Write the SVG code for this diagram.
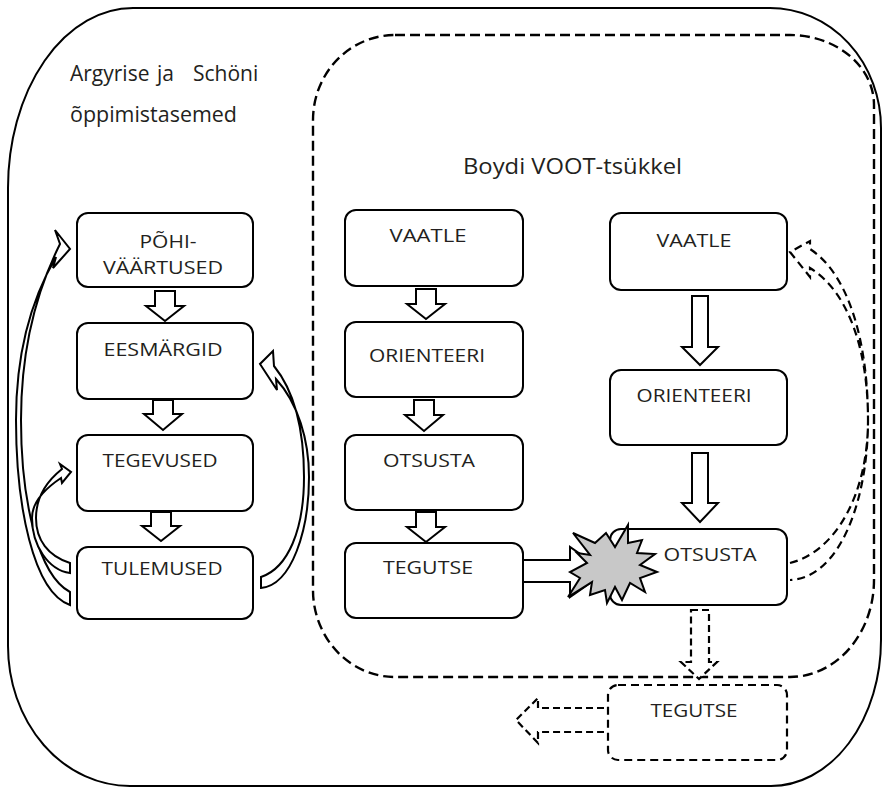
<svg xmlns="http://www.w3.org/2000/svg" width="886" height="791" viewBox="0 0 886 791">
<style>
  .box { fill: #ffffff; stroke: #000000; stroke-width: 2; }
  .dbox { fill: #ffffff; stroke: #000000; stroke-width: 2.2; stroke-dasharray: 8 5; }
  .lbl { font-family: "Open Sans", "Liberation Sans", sans-serif; font-size: 19px; fill: #231f20; text-anchor: middle; }
  .hdr { font-family: "Open Sans", "Liberation Sans", sans-serif; font-size: 21px; fill: #231f20; }
  .blk { fill: #ffffff; stroke: #000000; stroke-width: 2; stroke-linejoin: miter; }
  .dblk { fill: #ffffff; stroke: #000000; stroke-width: 2.2; stroke-dasharray: 7 4; }
  .curve { fill: #ffffff; stroke: #000000; stroke-width: 2; stroke-linejoin: miter; }
  .dcurve { fill: none; stroke: #000000; stroke-width: 2.2; stroke-dasharray: 8 5; }
</style>

<g id="containers">
  <path d="M133,8 H770 A111 120 0 0 1 881,128 V640 A110 146 0 0 1 771,786 H130 A122 140 0 0 1 8,646 V188 A125 180 0 0 1 133,8 Z" fill="none" stroke="#000" stroke-width="2"/>
  <path d="M395,35 H790 A84 70 0 0 1 874,105 V580 A84 97 0 0 1 790,677 H395 A82 87 0 0 1 313,590 V120 A82 85 0 0 1 395,35 Z" fill="none" stroke="#000" stroke-width="2.4" stroke-dasharray="10 5"/>
</g>

<g id="titles">
  <text class="hdr" y="81"><tspan x="70">Argyrise </tspan><tspan x="157">ja </tspan><tspan x="193">Schöni</tspan></text>
  <text class="hdr" x="70" y="122" textLength="167" lengthAdjust="spacingAndGlyphs">õppimistasemed</text>
  <text class="hdr" x="463" y="174" textLength="219" lengthAdjust="spacingAndGlyphs">Boydi VOOT-tsükkel</text>
</g>

<g id="node-pohivaartused">
  <rect class="box" x="77" y="213" width="176" height="74" rx="11"/>
  <text class="lbl" x="168" y="248" textLength="57" lengthAdjust="spacingAndGlyphs">PÕHI-</text>
  <text class="lbl" x="163" y="274" textLength="120" lengthAdjust="spacingAndGlyphs">VÄÄRTUSED</text>
</g>
<g id="node-eesmargid">
  <rect class="box" x="77" y="323" width="176" height="76" rx="11"/>
  <text class="lbl" x="163" y="356" textLength="119" lengthAdjust="spacingAndGlyphs">EESMÄRGID</text>
</g>
<g id="node-tegevused">
  <rect class="box" x="77" y="435" width="176" height="76" rx="11"/>
  <text class="lbl" x="160" y="467" textLength="115" lengthAdjust="spacingAndGlyphs">TEGEVUSED</text>
</g>
<g id="node-tulemused">
  <rect class="box" x="77" y="547" width="176" height="72" rx="11"/>
  <text class="lbl" x="162" y="575" textLength="121" lengthAdjust="spacingAndGlyphs">TULEMUSED</text>
</g>

<g id="node-vaatle1">
  <rect class="box" x="345" y="210" width="178" height="76" rx="11"/>
  <text class="lbl" x="428" y="242" textLength="77" lengthAdjust="spacingAndGlyphs">VAATLE</text>
</g>
<g id="node-orienteeri1">
  <rect class="box" x="345" y="322" width="178" height="75" rx="11"/>
  <text class="lbl" x="427" y="362" textLength="116" lengthAdjust="spacingAndGlyphs">ORIENTEERI</text>
</g>
<g id="node-otsusta1">
  <rect class="box" x="345" y="435" width="178" height="75" rx="11"/>
  <text class="lbl" x="429" y="467" textLength="92" lengthAdjust="spacingAndGlyphs">OTSUSTA</text>
</g>
<g id="node-tegutse1">
  <rect class="box" x="345" y="543" width="178" height="75" rx="11"/>
  <text class="lbl" x="428" y="574" textLength="90" lengthAdjust="spacingAndGlyphs">TEGUTSE</text>
</g>

<g id="node-vaatle2">
  <rect class="box" x="610" y="213" width="177" height="77" rx="11"/>
  <text class="lbl" x="694" y="247" textLength="75" lengthAdjust="spacingAndGlyphs">VAATLE</text>
</g>
<g id="node-orienteeri2">
  <rect class="box" x="610" y="370" width="177" height="75" rx="11"/>
  <text class="lbl" x="694" y="402" textLength="115" lengthAdjust="spacingAndGlyphs">ORIENTEERI</text>
</g>
<g id="node-otsusta2">
  <rect class="box" x="610" y="529" width="177" height="76" rx="11"/>
  <text class="lbl" x="710" y="561" textLength="93" lengthAdjust="spacingAndGlyphs">OTSUSTA</text>
</g>
<g id="node-tegutse2">
  <rect class="dbox" x="608" y="685" width="179" height="75" rx="10"/>
  <text class="lbl" x="694" y="717" textLength="87" lengthAdjust="spacingAndGlyphs">TEGUTSE</text>
</g>

<g id="connectors">
  <path class="blk" d="M155,291 H175 V306 H184 L165,321 L146,306 H155 Z"/>
  <path class="blk" d="M153,400 H173 V414 H182 L163,430 L144,414 H153 Z"/>
  <path class="blk" d="M151,512 H171 V526 H180 L161,541 L142,526 H151 Z"/>
  <path class="blk" d="M416,289 H436 V304 H445 L426,319 L407,304 H416 Z"/>
  <path class="blk" d="M414,400 H434 V415 H443 L424,431 L405,415 H414 Z"/>
  <path class="blk" d="M416,512 H436 V527 H445 L426,542 L407,527 H416 Z"/>
  <path class="blk" d="M692,296 H708 V347 H718 L700,365 L682,347 H692 Z"/>
  <path class="blk" d="M692,453 H708 V503 H718 L700,522 L682,503 H692 Z"/>
  <path class="blk" d="M523,560 H570 V547 L606,572 L570,597 V582 H523 Z"/>
  <path class="dblk" d="M691,610 H709 V662 H717 L699,679 L681,662 H691 Z"/>
  <path class="dblk" d="M604,708 H538 V698 L516,720 L538,743 V732 H604"/>
  <path class="curve" d="M70,592 C38,575 21,500 21,420 C21,350 36,292 60,244 L55,230 L70,249 L53,268 L56,257 C32,298 16,350 16,420 C16,505 33,592 70,605 Z"/>
  <path class="curve" d="M70,563 C48,556 36,540 36,518 C36,497 47,481 62,469 L60,464 L71,472 L62,483 L61,478 C46,488 32,502 32,518 C32,545 48,570 70,573 Z"/>
  <path class="curve" d="M261,577 C288,568 304,530 304,477 C304,430 295,392 274,366 L273,351 L260,364 L277,390 L276,379 C298,403 309,440 309,477 C309,530 292,585 261,588 Z"/>
  <path class="dcurve" d="M790,563 C835,552 868,495 868,420 C868,345 846,290 810,268 L810,277 L790,252 L810,241 L810,249 C850,275 868,345 868,420 C868,500 840,578 790,580"/>
</g>

<g id="burst">
  <polygon points="573,533 595,543 606,533 615,547 628,525 628,543 642,540 637,553 655,554 640,565 657,572 640,578 645,592 630,583 622,600 615,587 607,603 605,590 590,595 592,582 568,597 580,578 570,572 587,563 577,553 590,555" fill="#c8c8c8" stroke="#000" stroke-width="2" stroke-linejoin="miter"/>
</g>
</svg>
